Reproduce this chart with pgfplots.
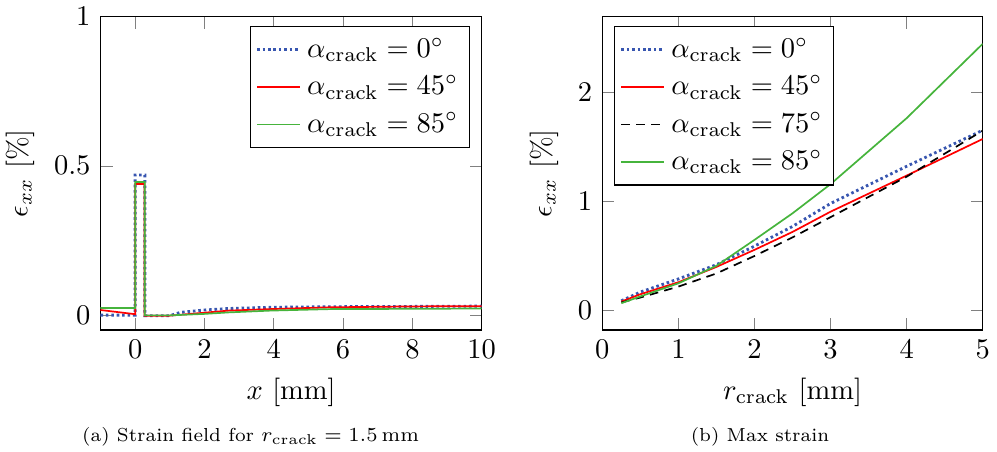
\documentclass[border=0pt]{standalone}
\usepackage{pgfplots}
\pgfplotsset{compat=1.18}
\definecolor{cblue}{RGB}{56,86,176}
\definecolor{cred}{RGB}{255,0,0}
\definecolor{cgreen}{RGB}{70,180,60}
\pgfplotsset{
  common/.style={
    scale only axis,
    height=110pt,
    tick label style={font=\fontsize{10}{12}\selectfont},
    label style={font=\fontsize{10}{12}\selectfont},
    legend style={font=\fontsize{10}{12}\selectfont, draw=black, row sep=0.7pt, inner xsep=2pt},
    legend cell align=left,
    legend image code/.code={\draw[#1] (0pt,0pt) -- (15pt,0pt);},
  },
  s0/.style={cblue, line width=1pt, dash pattern=on 0.9pt off 1pt},
  s45/.style={cred, line width=0.6pt},
  s75/.style={black, line width=0.6pt, dash pattern=on 3pt off 2.2pt},
  s85/.style={cgreen, line width=0.6pt},
}
\begin{document}
\begin{tikzpicture}
\useasboundingbox (0,0) rectangle (349.82pt,158.25pt);
\begin{axis}[common,
  at={(35.26pt,42.46pt)}, anchor=south west,
  width=133.75pt,
  xmin=-1, xmax=10, ymin=-0.05, ymax=1,
  xtick={0,2,4,6,8,10}, ytick={0,0.5,1},
  xlabel={$x$ [mm]}, ylabel={$\epsilon_{xx}$ [\%]},
  legend pos=north east,
]
\addplot[s0] coordinates {(-1,0.0) (0,0.0) (0,0.469) (0.28,0.469) (0.28,-0.002) (1,-0.002) (1.3,0.009) (2,0.017) (2.7,0.022) (3.9,0.026) (5.6,0.028) (8,0.029) (10,0.030)};
\addlegendentry{$\alpha_{\mathrm{crack}} = 0^\circ$}
\addplot[s45] coordinates {(-1,0.017) (0,0.003) (0,0.439) (0.27,0.439) (0.27,-0.002) (1,-0.002) (2,0.008) (2.7,0.015) (3.9,0.020) (5.6,0.026) (8,0.029) (10,0.030)};
\addlegendentry{$\alpha_{\mathrm{crack}} = 45^\circ$}
\addplot[s85] coordinates {(-1,0.024) (0,0.024) (0,0.446) (0.28,0.446) (0.28,-0.001) (1,-0.001) (2,0.004) (2.7,0.009) (3.9,0.015) (5.6,0.020) (8,0.021) (10,0.022)};
\addlegendentry{$\alpha_{\mathrm{crack}} = 85^\circ$}
\end{axis}
\begin{axis}[common,
  at={(211.33pt,42.46pt)}, anchor=south west,
  width=133.47pt,
  xmin=0, xmax=5, ymin=-0.177, ymax=2.69,
  xtick={0,1,2,3,4,5}, ytick={0,1,2},
  xlabel={$r_{\mathrm{crack}}$ [mm]}, ylabel={$\epsilon_{xx}$ [\%]},
  legend pos=north west,
]
\addplot[s0] coordinates {(0.25,0.09) (0.5,0.17) (1,0.29) (1.5,0.42) (2,0.59) (2.5,0.77) (3,0.98) (4,1.32) (5,1.65)};
\addlegendentry{$\alpha_{\mathrm{crack}} = 0^\circ$}
\addplot[s45] coordinates {(0.25,0.083) (0.5,0.15) (1,0.26) (1.5,0.40) (2,0.556) (2.5,0.72) (3,0.905) (4,1.235) (5,1.57)};
\addlegendentry{$\alpha_{\mathrm{crack}} = 45^\circ$}
\addplot[s75] coordinates {(0.25,0.075) (0.5,0.12) (1,0.22) (1.5,0.34) (2,0.50) (2.5,0.67) (3,0.855) (4,1.225) (5,1.646)};
\addlegendentry{$\alpha_{\mathrm{crack}} = 75^\circ$}
\addplot[s85] coordinates {(0.25,0.068) (0.5,0.13) (1,0.25) (1.5,0.41) (2,0.647) (2.5,0.89) (3,1.157) (4,1.76) (5,2.44)};
\addlegendentry{$\alpha_{\mathrm{crack}} = 85^\circ$}
\end{axis}
\node[anchor=base, font=\fontsize{6.6}{8}\selectfont] at (87.96pt,3.33pt) {(a) Strain field for $r_{\mathrm{crack}} = 1.5\,\mathrm{mm}$};
\node[anchor=base, font=\fontsize{6.6}{8}\selectfont] at (266.67pt,3.33pt) {(b) Max strain};
\end{tikzpicture}
\end{document}
